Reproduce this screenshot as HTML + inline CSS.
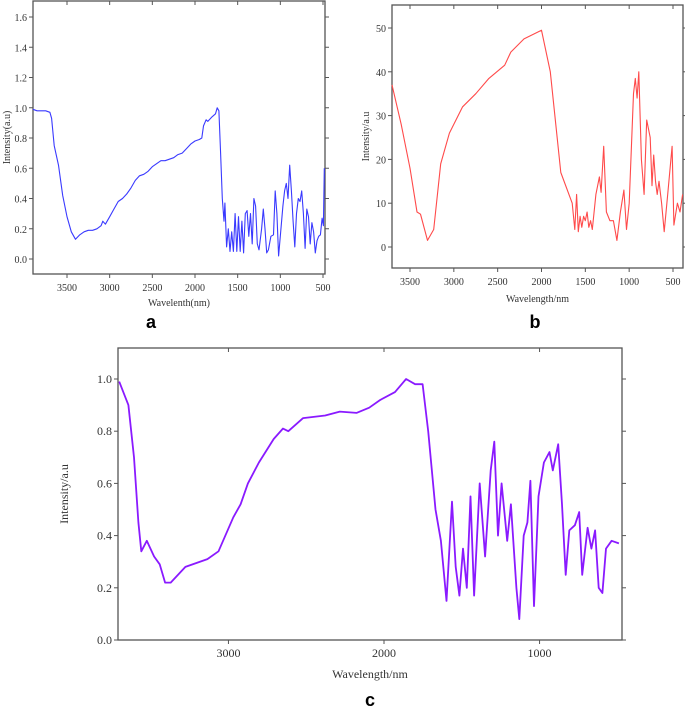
<!DOCTYPE html>
<html><head><meta charset="utf-8"><style>
body{margin:0;background:#fff;width:685px;height:708px;overflow:hidden}
svg{display:block;font-family:"Liberation Serif",serif}
</style></head><body>
<svg id="s" width="685" height="708"></svg>
<script>
// Panel a data
const aWave=[3900,3850,3800,3750,3700,3680,3650,3600,3550,3500,3450,3400,3350,3300,3250,3200,3150,3100,3080,3050,3000,2950,2900,2850,2800,2750,2700,2650,2600,2550,2500,2450,2400,2350,2300,2250,2200,2150,2100,2050,2000,1950,1920,1900,1870,1850,1800,1760,1740,1720,1700,1680,1660,1650,1630,1610,1590,1570,1550,1530,1510,1490,1470,1450,1430,1410,1390,1370,1350,1330,1310,1290,1270,1250,1220,1200,1180,1160,1140,1110,1080,1060,1040,1020,1000,970,950,930,910,890,870,850,830,810,790,770,750,730,710,690,670,650,630,610,590,570,550,530,510,495,485];
const aVal=[0.99,0.98,0.98,0.98,0.97,0.93,0.75,0.62,0.42,0.28,0.18,0.13,0.16,0.18,0.19,0.19,0.2,0.22,0.25,0.23,0.28,0.33,0.38,0.4,0.43,0.47,0.52,0.55,0.56,0.58,0.61,0.63,0.65,0.65,0.66,0.67,0.69,0.7,0.73,0.76,0.78,0.79,0.8,0.88,0.92,0.91,0.94,0.96,1.0,0.98,0.7,0.4,0.25,0.37,0.08,0.2,0.05,0.18,0.05,0.3,0.05,0.28,0.05,0.25,0.04,0.3,0.32,0.15,0.3,0.1,0.4,0.35,0.1,0.06,0.2,0.33,0.2,0.04,0.06,0.15,0.16,0.45,0.3,0.02,0.15,0.35,0.45,0.5,0.4,0.62,0.45,0.25,0.08,0.3,0.4,0.38,0.45,0.3,0.07,0.33,0.28,0.1,0.24,0.18,0.04,0.12,0.15,0.16,0.27,0.22,0.6];
const aYTicks=[0,0.2,0.4,0.6,0.8,1.0,1.2,1.4,1.6];
const aXTicks=[3500,3000,2500,2000,1500,1000,500];
// Panel b data
const bWave=[3705,3600,3500,3420,3380,3300,3230,3150,3050,2900,2750,2600,2420,2350,2200,2000,1900,1780,1650,1620,1600,1580,1560,1540,1520,1500,1480,1460,1440,1420,1380,1340,1320,1290,1260,1220,1180,1140,1100,1060,1030,1000,950,930,910,890,860,830,800,760,740,720,700,680,660,630,600,560,510,490,450,420,390];
const bVal=[37,28,18,8,7.5,1.5,4,19,26,32,35,38.5,41.5,44.5,47.5,49.5,40,17,10,4,12,3.5,7,4.5,7,6,8,4.5,6,4,12,16,12.5,23,8,6,6,1.5,8,13,4,10,35,38.5,34,40,20,12,29,25,14,21,15,12,15,10,3.5,12,23,5,10,8,12];
const bYTicks=[0,10,20,30,40,50];
const bXTicks=[3500,3000,2500,2000,1500,1000,500];
// Panel c data
const cWave=[3702,3643,3607,3579,3560,3525,3478,3442,3407,3371,3277,3135,3064,2969,2922,2875,2804,2709,2650,2615,2520,2378,2284,2177,2095,2024,1929,1858,1800,1752,1716,1669,1634,1598,1563,1539,1515,1492,1468,1444,1421,1385,1350,1314,1291,1267,1244,1208,1184,1149,1130,1102,1078,1059,1036,1007,972,936,915,880,856,832,809,773,745,726,691,667,643,620,596,573,537,490];
const cVal=[0.99,0.9,0.7,0.45,0.34,0.38,0.32,0.29,0.22,0.22,0.28,0.31,0.34,0.47,0.52,0.6,0.68,0.77,0.81,0.8,0.85,0.86,0.875,0.87,0.89,0.92,0.95,1.0,0.98,0.98,0.8,0.5,0.38,0.15,0.53,0.28,0.17,0.35,0.2,0.55,0.17,0.6,0.32,0.65,0.76,0.4,0.6,0.38,0.52,0.2,0.08,0.4,0.45,0.61,0.13,0.55,0.68,0.72,0.65,0.75,0.52,0.25,0.42,0.44,0.49,0.25,0.43,0.35,0.42,0.2,0.18,0.35,0.38,0.37];
const cYTicks=[0,0.2,0.4,0.6,0.8,1.0];
const cXTicks=[3000,2000,1000];

const NS="http://www.w3.org/2000/svg";
const svg=document.getElementById('s');
function mk(tag,attrs,parent){const e=document.createElementNS(NS,tag);for(const k in attrs)e.setAttribute(k,attrs[k]);(parent||svg).appendChild(e);return e;}
function panel(p){
  const g=mk('g',{});
  
  
  const xs=v=>p.x0px+(v-p.x0v)*(p.x1px-p.x0px)/(p.x1v-p.x0v);
  const ys=v=>p.y0px+(v-p.y0v)*(p.y1px-p.y0px)/(p.y1v-p.y0v);
  const fr=mk('rect',{x:p.L,y:p.T,width:p.R-p.L,height:p.B-p.T,fill:'none',stroke:'#555','stroke-width':1.3},g);
  
  
  p.yt.forEach(v=>{const y=ys(v);
    mk('line',{x1:p.L-4,x2:p.L,y1:y,y2:y,stroke:'#555'},g);
    mk('line',{x1:p.R,x2:p.R+4,y1:y,y2:y,stroke:'#555'},g);
    const t=mk('text',{x:p.L-6,y:y+4,'text-anchor':'end','font-size':p.fs,fill:'#333'},g);
    t.textContent=p.yfmt(v);
    
    
  });
  p.xt.forEach(v=>{const x=xs(v);
    mk('line',{x1:x,x2:x,y1:p.B,y2:p.B+4,stroke:'#555'},g);
    mk('line',{x1:x,x2:x,y1:p.T,y2:p.T+4,stroke:'#555'},g);
    const t=mk('text',{x:x,y:p.B+17,'text-anchor':'middle','font-size':p.fs,fill:'#333'},g);
    t.textContent=v;
    
    
  });
  const d=p.w.map((w,i)=>(i?'L':'M')+xs(w).toFixed(1)+','+ys(p.v[i]).toFixed(1)).join('');
  const pa=mk('path',{d:d,fill:'none',stroke:p.col,'stroke-width':p.sw,'stroke-linejoin':'round'},g);
  
  
  const xl=mk('text',{x:(p.L+p.R)/2,y:p.xly,'text-anchor':'middle','font-size':p.fs,fill:'#333'},g);
  xl.textContent=p.xlab;
  
  
  const yl=mk('text',{x:0,y:0,'text-anchor':'middle','font-size':p.fs,fill:'#333',transform:`translate(${p.ylx},${(p.T+p.B)/2}) rotate(-90)`},g);
  yl.textContent=p.ylab;
  
  
  const lb=mk('text',{x:p.lx,y:p.ly,'text-anchor':'middle','font-size':18,'font-weight':'bold','font-family':'Liberation Sans, sans-serif',fill:'#000'},g);
  lb.textContent=p.name;
  
  
}
panel({name:'a',L:33,R:325,T:1,B:274,x0v:3500,x0px:67,x1v:500,x1px:323,y0v:0,y0px:259,y1v:1.6,y1px:17,
  w:aWave,v:aVal,yt:aYTicks,xt:aXTicks,yfmt:v=>v.toFixed(1),col:'#3a3aff',sw:1.1,fs:10,xlab:'Wavelenth(nm)',xly:306,ylab:'Intensity(a.u)',ylx:10,lx:151,ly:328});
panel({name:'b',L:392,R:683,T:5,B:268,x0v:3500,x0px:410,x1v:500,x1px:673,y0v:0,y0px:247,y1v:50,y1px:28,
  w:bWave,v:bVal,yt:bYTicks,xt:bXTicks,yfmt:v=>v,col:'#ff4a4a',sw:1.1,fs:10,xlab:'Wavelength/nm',xly:302,ylab:'Intensity/a.u',ylx:369,lx:535,ly:328});
panel({name:'c',L:118,R:622,T:348,B:640,x0v:3710,x0px:118,x1v:470,x1px:622,y0v:0,y0px:640,y1v:1.0,y1px:379,
  w:cWave,v:cVal,yt:cYTicks,xt:cXTicks,yfmt:v=>v.toFixed(1),col:'#8a1aff',sw:1.8,fs:12,xlab:'Wavelength/nm',xly:678,ylab:'Intensity/a.u',ylx:68,lx:370,ly:706});
</script>
</body></html>
